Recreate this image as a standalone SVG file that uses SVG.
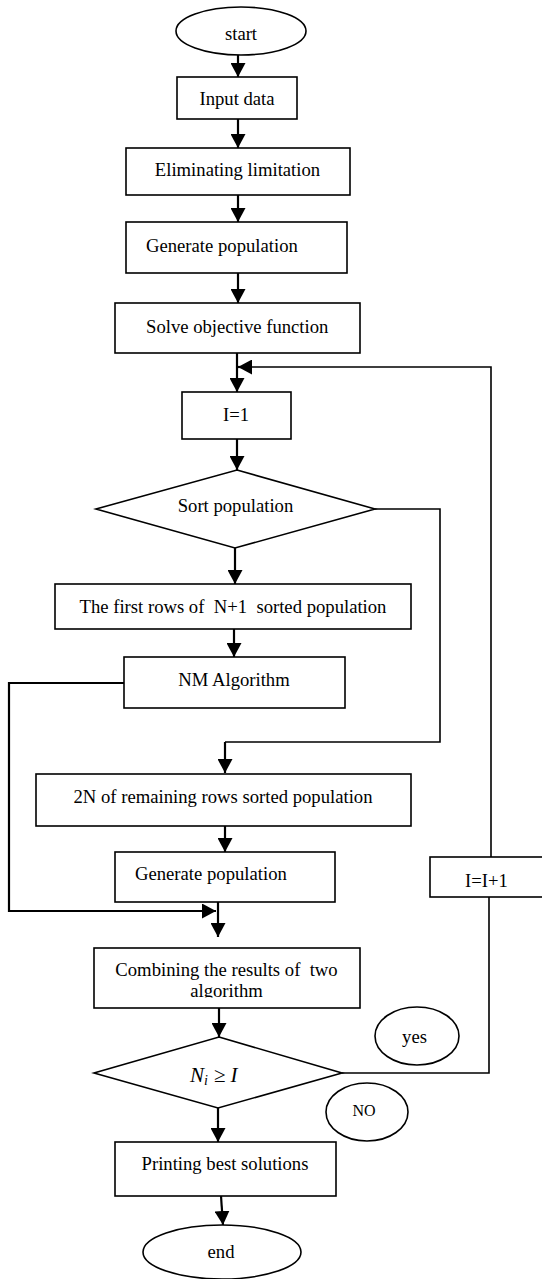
<svg xmlns="http://www.w3.org/2000/svg" width="542" height="1279" viewBox="0 0 542 1279">
<style>
.n{fill:#fff;stroke:#000;stroke-width:1.6}
.t{font-family:"Liberation Serif","Times New Roman",serif;font-size:18.67px;fill:#000}
.c{text-anchor:middle}
.a{fill:none;stroke:#000;stroke-width:2.2}
.l{fill:none;stroke:#000;stroke-width:1.6}
</style>
<defs>
<marker id="ah" markerUnits="userSpaceOnUse" markerWidth="14" markerHeight="15" refX="14" refY="7.5" orient="auto">
<path d="M0,0 L14,7.5 L0,15 z" fill="#000"/>
</marker>
<clipPath id="cc"><rect x="94" y="948" width="266" height="49.5"/></clipPath>
</defs>
<rect width="542" height="1279" fill="#fff"/>
<g id="connectors">
<path class="a" d="M238,55 V77" marker-end="url(#ah)"/>
<path class="a" d="M238,119 V148" marker-end="url(#ah)"/>
<path class="a" d="M238,195 V222" marker-end="url(#ah)"/>
<path class="a" d="M238,273 V303" marker-end="url(#ah)"/>
<path class="a" d="M237,353 V392" marker-end="url(#ah)"/>
<path class="l" d="M491,857 V367 H250"/>
<path class="a" d="M252,367 H238" marker-end="url(#ah)"/>
<path class="a" d="M237,439 V470" marker-end="url(#ah)"/>
<path class="a" d="M235,548 V584" marker-end="url(#ah)"/>
<path class="a" d="M234,629 V657" marker-end="url(#ah)"/>
<path class="l" d="M375,509 H440 V742 H225"/>
<path class="a" d="M225,742 V773" marker-end="url(#ah)"/>
<path class="a" d="M225,826 V852" marker-end="url(#ah)"/>
<path class="a" d="M124,683 H9 V911 H216" marker-end="url(#ah)"/>
<path class="a" d="M218,902 V937" marker-end="url(#ah)"/>
<path class="a" d="M219,1008 V1037" marker-end="url(#ah)"/>
<path class="l" d="M342,1073 H489 V897"/>
<path class="a" d="M218,1108 V1142" marker-end="url(#ah)"/>
<path class="a" d="M221,1196 L223,1225" marker-end="url(#ah)"/>
</g>
<g id="start"><ellipse class="n" cx="241" cy="31" rx="65" ry="24"/><text class="t c" x="241" y="40">start</text></g>
<g id="input"><rect class="n" x="177" y="77" width="120" height="42"/><text class="t c" x="237" y="105">Input data</text></g>
<g id="elim"><rect class="n" x="126" y="148" width="224" height="47"/><text class="t c" x="237.5" y="176">Eliminating limitation</text></g>
<g id="gen1"><rect class="n" x="126" y="222" width="221" height="51"/><text class="t" x="146" y="252">Generate population</text></g>
<g id="solve"><rect class="n" x="115" y="303" width="245" height="50"/><text class="t" x="146" y="333">Solve objective function</text></g>
<g id="i1"><rect class="n" x="182" y="392" width="109" height="47"/><text class="t c" x="236" y="421">I=1</text></g>
<g id="sort"><polygon class="n" points="237,470 375,509 235,548 96,509"/><text class="t c" x="235.5" y="512">Sort population</text></g>
<g id="first"><rect class="n" x="55" y="584" width="356" height="45"/><text class="t c" x="233" y="613" xml:space="preserve">The first rows of  N+1  sorted population</text></g>
<g id="nm"><rect class="n" x="124" y="657" width="221" height="51"/><text class="t c" x="234" y="686">NM Algorithm</text></g>
<g id="rem"><rect class="n" x="36" y="774" width="375" height="52"/><text class="t c" x="223" y="803">2N of remaining rows sorted population</text></g>
<g id="gen2"><rect class="n" x="115" y="852" width="220" height="50"/><text class="t" x="135" y="880">Generate population</text></g>
<g id="inc"><rect class="n" x="430" y="857" width="120" height="40"/><text class="t" x="465" y="887">I=I+1</text></g>
<g id="comb"><rect class="n" x="94" y="948" width="266" height="60"/><g clip-path="url(#cc)"><text class="t c" x="226.5" y="976" xml:space="preserve">Combining the results of  two</text><text class="t c" x="226.5" y="997">algorithm</text></g></g>
<g id="cond"><polygon class="n" points="219,1037 342,1073 218,1108 94,1073"/><text x="190" y="1082" style="font-family:'Liberation Serif',serif;font-style:italic;font-size:21px">N<tspan font-size="14" dy="3">i</tspan><tspan dx="6" dy="-3" font-style="normal">≥</tspan><tspan dx="5">I</tspan></text></g>
<g id="yes"><ellipse class="n" cx="417" cy="1036" rx="42" ry="29"/><text class="t c" x="414.5" y="1043">yes</text></g>
<g id="no"><ellipse class="n" cx="367" cy="1112" rx="41" ry="29"/><text class="t c" x="364" y="1116" style="font-size:16px">NO</text></g>
<g id="print"><rect class="n" x="115" y="1142" width="221" height="54"/><text class="t c" x="225" y="1170">Printing best solutions</text></g>
<g id="end"><ellipse class="n" cx="222" cy="1252" rx="79" ry="27"/><text class="t c" x="221" y="1258">end</text></g>
</svg>
